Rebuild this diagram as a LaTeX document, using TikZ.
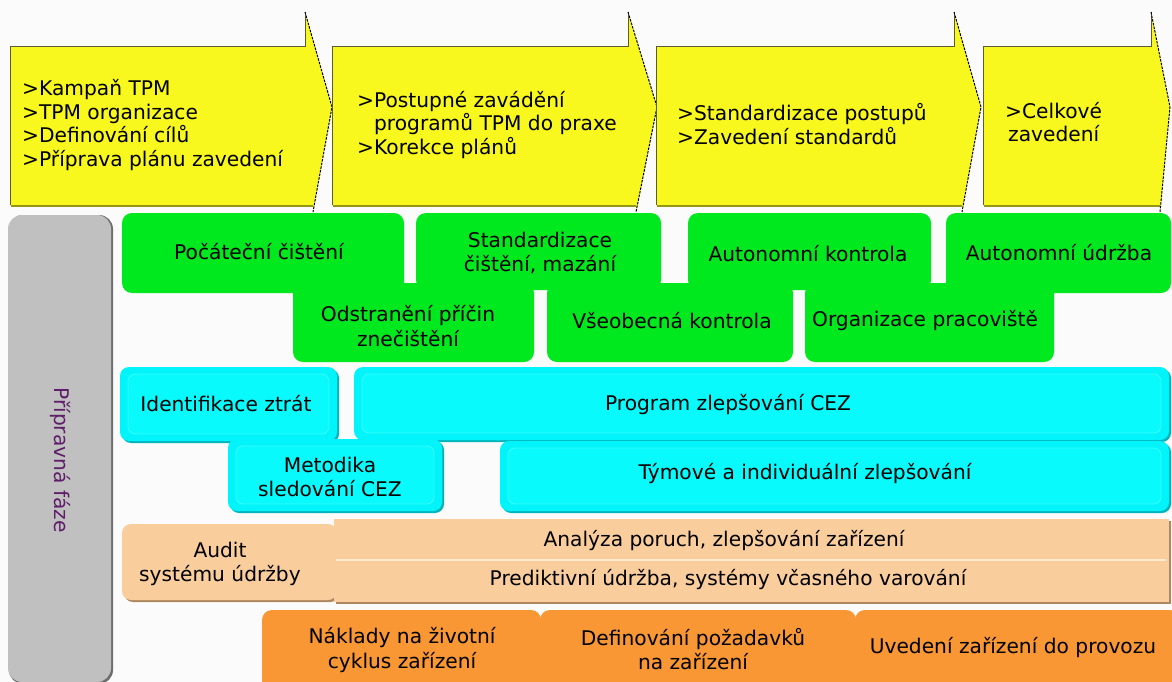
\documentclass[tikz,border=0pt]{standalone}
\usepackage{fontspec}
\setmainfont{DejaVu Sans}
\definecolor{bgc}{RGB}{251,251,251}
\definecolor{yel}{RGB}{248,248,30}
\definecolor{yelshadow}{RGB}{150,150,20}
\definecolor{yeledge}{RGB}{90,90,60}
\definecolor{grn}{RGB}{0,232,30}
\definecolor{cyo}{RGB}{0,244,250}
\definecolor{cyi}{RGB}{8,250,252}
\definecolor{cyl}{RGB}{60,252,252}
\definecolor{cys}{RGB}{0,180,190}
\definecolor{pch}{RGB}{250,206,156}
\definecolor{pchs}{RGB}{175,135,95}
\definecolor{pchl}{RGB}{255,232,208}
\definecolor{org}{RGB}{248,151,52}
\definecolor{gry}{RGB}{192,192,192}
\definecolor{gryd}{RGB}{110,110,110}
\definecolor{purp}{RGB}{95,30,105}
\tikzset{
  lbl/.style={inner sep=0pt, align=center, font=\fontsize{20.2}{24.5}\selectfont},
  lbll/.style={inner sep=0pt, align=left, anchor=west, font=\fontsize{20.2}{23.5}\selectfont},
  gbox/.style={fill=grn, rounded corners=10pt},
  obox/.style={fill=org, rounded corners=10pt},
}
\newcommand\yarrowshape[4]{%
  \fill[yel] (#1,47) -- (#2,47) -- (#2,12) -- (#3,107) -- (#4,212) -- (#4,205) -- (#1,205) -- cycle;
  \draw[yelshadow, line width=2] (#1+1,206) -- (#4,206);
  \draw[yeledge, line width=1] (#1,205) -- (#1,47) -- (#2,47) -- (#2,12);
  \draw[black, line width=1, dash pattern=on 2.5pt off 1.2pt] (#2,12) -- (#3,107) -- (#4,212);
}
\newcommand\cyanbox[4]{%
  \fill[cys, rounded corners=9pt] (#1+2,#2+2) rectangle (#3+2,#4+2);
  \fill[cyo, rounded corners=9pt] (#1,#2) rectangle (#3,#4);
  \filldraw[fill=cyi, draw=cyl, line width=0.8, rounded corners=7pt] (#1+8,#2+7) rectangle (#3-8,#4-7);
}
\begin{document}
\begin{tikzpicture}[x=1pt,y=-1pt]
\useasboundingbox (0,0) rectangle (1172,682);
\fill[bgc] (0,0) rectangle (1172,682);

% yellow phase arrows
\yarrowshape{10}{305}{332}{313}
\yarrowshape{332}{628}{657}{636}
\yarrowshape{656}{954}{981}{962}
\yarrowshape{983}{1151}{1170}{1160}
\node[lbll] (a1) at (22,125) {>Kampaň TPM\\>TPM organizace\\>Definování cílů\\>Příprava plánu zavedení};
\node[lbll] (a2) at (357,125) {>Postupné zavádění\\\phantom{>}programů TPM do praxe\\>Korekce plánů};
\node[lbll] (a3) at (677,124) {>Standardizace postupů\\>Zavedení standardů};
\node[lbll] (a4) at (1005,122) {>Celkové\\\hspace*{3pt}zavedení};

% grey side bar
\fill[gryd, rounded corners=14pt] (9,215) rectangle (113,684);
\fill[gry, rounded corners=14pt] (8,215) rectangle (111,682);
\node[lbl, text=purp, rotate=-90] (pf) at (60,460) {Přípravná fáze};

% green row
\fill[gbox] (293,283) rectangle (534,362);
\fill[gbox] (547,283) rectangle (793,362);
\fill[gbox] (805,283) rectangle (1054,362);
\fill[gbox] (122,213) rectangle (404,293);
\fill[gbox] (416,213) rectangle (661,290);
\fill[gbox] (688,213) rectangle (931,290);
\fill[gbox] (946,213) rectangle (1171,293);
\node[lbl] (g1) at (259,252) {Počáteční čištění};
\node[lbl] (g2) at (540,253) {Standardizace\\čištění, mazání};
\node[lbl] (g3) at (808,254) {Autonomní kontrola};
\node[lbl] (g4) at (1059,253) {Autonomní údržba};
\node[lbl] (g5) at (408,326) {Odstranění příčin\\znečištění};
\node[lbl] (g6) at (672,321) {Všeobecná kontrola};
\node[lbl] (g7) at (925,321) {Organizace pracoviště};

% cyan rows
\cyanbox{120}{367}{337}{441}
\cyanbox{354}{367}{1169}{440}
\cyanbox{228}{439}{442}{511}
\cyanbox{500}{441}{1169}{511}
\node[lbl] (c1) at (226,404) {Identifikace ztrát};
\node[lbl] (c2) at (728,405) {Program zlepšování CEZ};
\node[lbl] (c3) at (330,477) {Metodika\\sledování CEZ};
\node[lbl] (c4) at (805,474) {Týmové a individuální zlepšování};

% peach rows
\fill[pchs, rounded corners=9pt] (124,526) rectangle (339,602);
\fill[pch, rounded corners=9pt] (122,524) rectangle (337,600);
\fill[pchs] (336,521) rectangle (1171,604);
\fill[pch] (334,519) rectangle (1169,602);
\draw[pchl, line width=1.8] (336,560) -- (1166,560);
\node[lbl] (p1) at (220,564) {Audit\\systému údržby};
\node[lbl] (p2) at (724,541) {Analýza poruch, zlepšování zařízení};
\node[lbl] (p3) at (728,580) {Prediktivní údržba, systémy včasného varování};

% orange row
\fill[obox] (262,610) rectangle (541,700);
\fill[obox] (540,610) rectangle (856,700);
\fill[obox] (855,610) rectangle (1180,700);
\node[lbl] (o1) at (402,650) {Náklady na životní\\cyklus zařízení};
\node[lbl] (o2) at (693,649) {Definování požadavků\\na zařízení};
\node[lbl] (o3) at (1013,648) {Uvedení zařízení do provozu};
\end{tikzpicture}
\end{document}
